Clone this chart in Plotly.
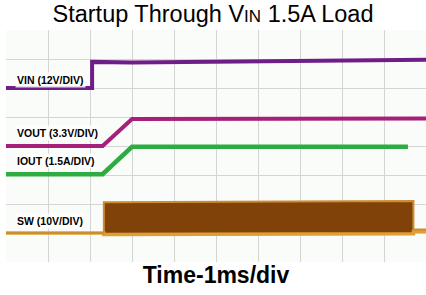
import plotly.graph_objects as go

# time in ms (1 ms/div), amplitudes in scope divisions
vin_t = [0, 2.05, 2.05, 3.0, 10]
vin_v = [6.0, 6.0, 6.9, 6.88, 6.97]

vout_t = [0, 2.3, 3.0, 10]
vout_v = [4.0, 4.0, 4.93, 4.95]

iout_t = [0, 2.3, 3.0, 9.57]
iout_v = [3.03, 3.03, 3.97, 3.97]

sw_t = [0, 2.33, 2.33, 9.7, 9.7, 10]
sw_lo = [1.0, 1.0, 0.95, 0.97, 1.05, 1.05]
sw_hi = [1.0, 1.0, 2.06, 2.1, 1.12, 1.12]

labels = ["VIN (12V/DIV)", "VOUT (3.3V/DIV)", "IOUT (1.5A/DIV)", "SW (10V/DIV)"]
label_y = [6.28, 4.45, 3.48, 1.41]

fig = go.Figure()

# SW switching band
fig.add_trace(go.Scatter(x=sw_t, y=sw_lo, mode="lines",
                         line=dict(color="rgb(222,160,50)", width=3.5),
                         hoverinfo="skip"))
fig.add_trace(go.Scatter(x=sw_t, y=sw_hi, mode="lines", fill="tonexty",
                         fillcolor="rgb(128,66,8)",
                         line=dict(color="rgb(205,140,50)", width=2),
                         hoverinfo="skip"))

fig.add_trace(go.Scatter(x=iout_t, y=iout_v, mode="lines",
                         line=dict(color="rgb(45,172,65)", width=4.5)))
fig.add_trace(go.Scatter(x=vout_t, y=vout_v, mode="lines",
                         line=dict(color="rgb(165,32,122)", width=4)))
fig.add_trace(go.Scatter(x=vin_t, y=vin_v, mode="lines",
                         line=dict(color="rgb(112,30,135)", width=4)))

for txt, yy in zip(labels, label_y):
    fig.add_annotation(x=0.21, y=yy, text="<b>" + txt + "</b>", showarrow=False,
                       xanchor="left", yanchor="middle",
                       font=dict(family="Arial, Liberation Sans", size=10.5, color="black"),
                       bgcolor="rgba(255,255,255,0.85)")

fig.update_layout(
    width=426, height=295,
    margin=dict(l=6, r=0, t=30, b=33),
    paper_bgcolor="white", plot_bgcolor="rgb(250,252,249)",
    showlegend=False,
    title=dict(text='Startup Through V<span style="font-size:17px">IN</span> 1.5A Load',
               x=0.5, xanchor="center", y=0.982, yanchor="top",
               font=dict(family="Arial, Liberation Sans", size=23.5, color="black")),
    xaxis=dict(range=[0, 10], dtick=1, showticklabels=False, ticks="",
               showgrid=True, gridcolor="rgb(212,212,212)", gridwidth=1, zeroline=False,
               title=dict(text="<b>Time-1ms/div</b>", standoff=4,
                          font=dict(family="Arial, Liberation Sans", size=23, color="black"))),
    yaxis=dict(range=[0, 8], dtick=1, showticklabels=False, ticks="",
               showgrid=True, gridcolor="rgb(212,212,212)", gridwidth=1, zeroline=False),
)

fig.write_html("out.html", config={"displayModeBar": False},
               post_script="document.body.style.margin='0';document.body.style.padding='0';")
